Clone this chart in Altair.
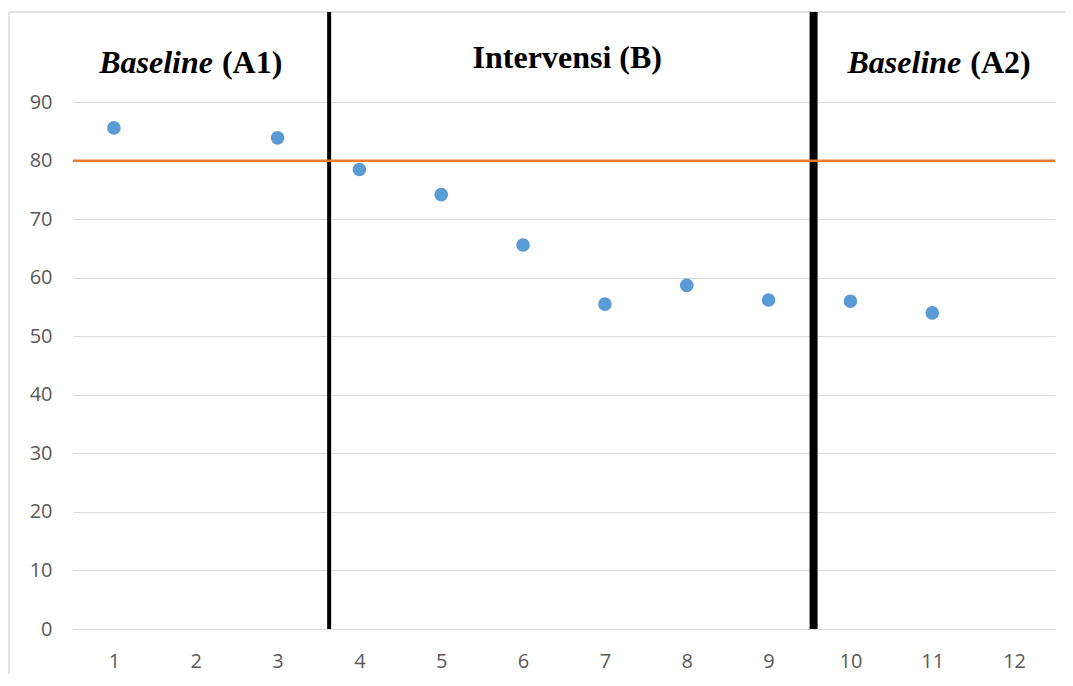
import altair as alt
import pandas as pd

# ---- data ----
sessions = [1, 3, 4, 5, 6, 7, 8, 9, 10, 11]
scores = [85.6, 83.9, 78.5, 74.2, 65.6, 55.5, 58.7, 56.2, 56.0, 54.0]
x_ticks = list(range(1, 13))
y_ticks = list(range(0, 100, 10))
target_line = [80]
phase_a1_end = [3.63]
phase_b_end = [9.55]

phase_label_mid = ["Intervensi (B)"]
phase_label_mid_x = [6.54]
baseline_words = ["Baseline", "Baseline"]
baseline_suffix = ["(A1)", "(A2)"]
baseline_label_x = [2.265, 11.41]

W, H = 982, 617
X_DOMAIN = [0.5, 12.5]
Y_DOMAIN = [0, 105.4]
SERIF = "'Liberation Serif', 'Times New Roman', 'DejaVu Serif', serif"

pts = pd.DataFrame({"x": sessions, "y": scores})

xs = alt.Scale(domain=X_DOMAIN, nice=False, zero=False)
ys = alt.Scale(domain=Y_DOMAIN, nice=False, zero=False)

x_axis = alt.Axis(values=x_ticks, title=None, grid=False, ticks=False, domain=False,
                  labelFont="Open Sans", labelFontSize=20, labelColor="#595959",
                  labelPadding=22, format="d")
y_axis = alt.Axis(values=y_ticks, title=None, grid=True, gridColor="#D9D9D9", gridWidth=1.2,
                  ticks=False, domain=False, labelFont="Open Sans", labelFontSize=20,
                  labelColor="#595959", labelPadding=21, format="d")

base_pts = alt.Chart(pts).mark_circle(size=185, color="#5B9BD5", opacity=1).encode(
    x=alt.X("x:Q", scale=xs, axis=x_axis),
    y=alt.Y("y:Q", scale=ys, axis=y_axis),
)

thin = alt.Chart(pd.DataFrame({"x": phase_a1_end})).mark_rule(color="black", strokeWidth=4).encode(
    x=alt.X("x:Q", scale=xs)
)
thick = alt.Chart(pd.DataFrame({"x": phase_b_end})).mark_rule(color="black", strokeWidth=8).encode(
    x=alt.X("x:Q", scale=xs)
)
orange = alt.Chart(pd.DataFrame({"y": target_line})).mark_rule(color="#ED7D31", strokeWidth=2.6).encode(
    y=alt.Y("y:Q", scale=ys)
)

mid_df = pd.DataFrame({"x": phase_label_mid_x, "t": phase_label_mid, "y": [95.9]})
mid_text = alt.Chart(mid_df).mark_text(font=SERIF, fontSize=32, fontWeight="bold",
                                       color="black", align="center", baseline="alphabetic").encode(
    x=alt.X("x:Q", scale=xs), y=alt.Y("y:Q", scale=ys), text="t:N"
)

bl_df = pd.DataFrame({"x": baseline_label_x, "w": baseline_words, "s": baseline_suffix, "y": [95.0, 95.0]})
bl_word = alt.Chart(bl_df).mark_text(font=SERIF, fontSize=32, fontWeight="bold",
                                     fontStyle="italic", color="black", align="right",
                                     baseline="alphabetic", dx=-4.5).encode(
    x=alt.X("x:Q", scale=xs), y=alt.Y("y:Q", scale=ys), text="w:N"
)
bl_suf = alt.Chart(bl_df).mark_text(font=SERIF, fontSize=32, fontWeight="bold",
                                    color="black", align="left", baseline="alphabetic", dx=4.5).encode(
    x=alt.X("x:Q", scale=xs), y=alt.Y("y:Q", scale=ys), text="s:N"
)

frame_left = alt.Chart(pd.DataFrame({"a": [0]})).mark_rule(color="#D9D9D9", strokeWidth=1.5).encode(
    x=alt.value(-64), y=alt.value(0), y2=alt.value(700)
)
frame_top = alt.Chart(pd.DataFrame({"a": [0]})).mark_rule(color="#D9D9D9", strokeWidth=1.5).encode(
    x=alt.value(-64), x2=alt.value(1100), y=alt.value(0)
)

chart = alt.layer(
    frame_left, frame_top, base_pts.mark_circle(opacity=0), thin, thick, orange,
    mid_text, bl_word, bl_suf, base_pts
).properties(
    width=W, height=H,
    padding={"left": 65, "top": 4, "right": 10, "bottom": 45},
    autosize=alt.AutoSizeParams(type="none"),
    background="white",
).configure_view(strokeWidth=0)

chart.save("out.html", embed_options={"renderer": "svg", "actions": False})
